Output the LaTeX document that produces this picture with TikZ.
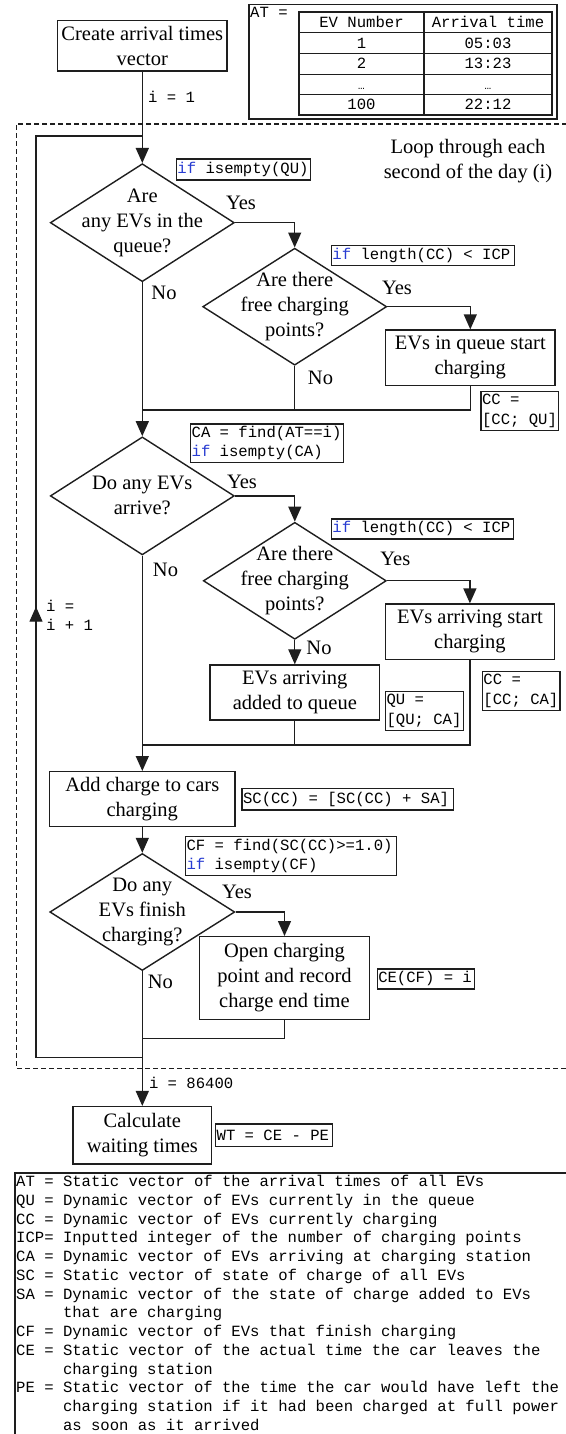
\documentclass[tikz,border=0pt]{standalone}
\usepackage{fontspec}
\setmainfont{Liberation Serif}
\setmonofont{Liberation Mono}
\usetikzlibrary{arrows.meta,shapes.geometric}
\definecolor{ifblue}{RGB}{40,60,210}
\definecolor{ink}{RGB}{30,30,30}
\newcommand{\nsp}{\spaceskip=0pt\xspaceskip=0pt\relax}
\newcommand{\kw}[1]{\textcolor{ifblue}{#1}}
\begin{document}
\begin{tikzpicture}[x=1pt,y=-1pt,line join=miter,
  main/.style={font=\fontsize{20.5pt}{25pt}\selectfont},
  box/.style={draw=ink,line width=1.4pt,rectangle,align=center,inner sep=1pt,main},
  dia/.style={draw=ink,line width=1.4pt,diamond,inner sep=0pt},
  dtext/.style={align=center,main,inner sep=0pt},
  code/.style={font=\ttfamily\frenchspacing\fontsize{15.6pt}{19.5pt}\selectfont},
  cbox/.style={draw=ink,line width=1.3pt,code,anchor=north west,align=left,inner xsep=1pt,inner ysep=0pt},
  conn/.style={draw=ink,line width=1.3pt},
  arr/.style={conn,-{Triangle[length=15pt,width=13pt]}},
  lbl/.style={main,inner sep=0pt},
  lgd/.style={code,anchor=base west,inner sep=0pt},
  cell/.style={code,anchor=base,inner sep=0pt}]
\useasboundingbox (0,0) rectangle (565,1434);
\fill[white] (0,0) rectangle (565,1434);

% ---------- table AT ----------
\draw[ink,line width=1.4pt] (249,4.7) rectangle (557,119);
\node[lgd] (atlbl) at (250,18) {AT =};
\draw[ink,line width=1.6pt] (299,12.3) rectangle (552,115.3);
\foreach \yy in {32.9,53.5,74.1,94.7} \draw[ink,line width=1.1pt] (299,\yy) -- (552,\yy);
\draw[ink,line width=1.1pt] (424,12.3) -- (424,115.3);
\node[cell] (t11) at (361.5,27.6) {EV Number};
\node[cell] (t12) at (488,27.6) {Arrival time};
\node[cell] (t21) at (361.5,48.2) {1};
\node[cell] (t22) at (488,48.2) {05:03};
\node[cell] (t31) at (361.5,68.8) {2};
\node[cell] (t32) at (488,68.8) {13:23};
\node[cell,font=\ttfamily\fontsize{11pt}{12pt}\selectfont] (t41) at (361.5,89.4) {…};
\node[cell,font=\ttfamily\fontsize{11pt}{12pt}\selectfont] (t42) at (488,89.4) {…};
\node[cell] (t51) at (361.5,110) {100};
\node[cell] (t52) at (488,110) {22:12};

% ---------- dashed loop frame ----------
\draw[ink,line width=1.1pt,dash pattern=on 5pt off 3pt] (567,124) -- (16.2,124) -- (16.2,1068.3) -- (567,1068.3);
\node[lbl,align=center] (looplbl) at (468,161) {Loop through each\\second of the day (i)};

% ---------- nodes ----------
\node[box,minimum width=169.7pt,minimum height=50.3pt] (b0) at (142.3,45.9) {Create arrival times\\vector};

\node[dia,minimum width=184pt,minimum height=118pt] (d1) at (142.3,222.7) {};
\node[dtext] (d1t) at (d1.center) {Are\\any EVs in the\\queue?};
\node[dia,minimum width=184pt,minimum height=117pt] (d2) at (294.7,306.7) {};
\node[dtext] (d2t) at (d2.center) {Are there\\free charging\\points?};
\node[box,minimum width=169.4pt,minimum height=55.7pt] (b1) at (470.3,357.9) {EVs in queue start\\charging};

\node[dia,minimum width=184pt,minimum height=118pt] (d3) at (142.3,495.9) {};
\node[dtext] (d3t) at (d3.center) {Do any EVs\\arrive?};
\node[dia,minimum width=183pt,minimum height=117pt] (d4) at (294.8,580.8) {};
\node[dtext] (d4t) at (d4.center) {Are there\\free charging\\points?};
\node[box,minimum width=168.6pt,minimum height=55.3pt] (b2) at (469.9,631.7) {EVs arriving start\\charging};
\node[box,minimum width=169.4pt,minimum height=55pt] (b3) at (294.8,692.5) {EVs arriving\\added to queue};

\node[box,minimum width=185.6pt,minimum height=55pt] (b4) at (142.3,799.2) {Add charge to cars\\charging};
\node[dia,minimum width=185pt,minimum height=117pt] (d5) at (142.3,912) {};
\node[dtext] (d5t) at (d5.center) {Do any\\EVs finish\\charging?};
\node[box,minimum width=170pt,minimum height=82.6pt] (b5) at (284.5,978) {Open charging\\point and record\\charge end time};
\node[box,minimum width=138.8pt,minimum height=57.3pt] (b6) at (142.3,1135.3) {Calculate\\waiting times};

% ---------- code boxes ----------
\node[cbox,text width=132.2pt,minimum height=21pt] (c1) at (175.8,158.5) {\nsp\kw{if} isempty(QU)};
\node[cbox,text width=180.7pt,minimum height=20pt] (c2) at (330.8,245) {\nsp\kw{if} length(CC) < ICP};
\node[cbox,text width=75.4pt,minimum height=39.3pt] (c3) at (480.4,390.7) {\nsp CC =\\{}[CC; QU]};
\node[cbox,text width=151pt,minimum height=38.4pt] (c4) at (190,423.3) {\nsp CA = find(AT==i)\\\kw{if} isempty(CA)};
\node[cbox,text width=180pt,minimum height=20pt] (c5) at (330.8,518.3) {\nsp\kw{if} length(CC) < ICP};
\node[cbox,text width=75.5pt,minimum height=39.3pt] (c6) at (481.8,670.7) {\nsp CC =\\{}[CC; CA]};
\node[cbox,text width=76.1pt,minimum height=39.3pt] (c7) at (384.9,690.7) {\nsp QU =\\{}[QU; CA]};
\node[cbox,text width=209.6pt,minimum height=21.6pt] (c8) at (241.4,787.7) {\nsp SC(CC) = [SC(CC) + SA]};
\node[cbox,text width=208.8pt,minimum height=39pt] (c9) at (184.9,836) {\nsp CF = find(SC(CC)>=1.0)\\\kw{if} isempty(CF)};
\node[cbox,text width=95.3pt,minimum height=20pt] (c10) at (376.6,968.3) {\nsp CE(CF) = i};
\node[cbox,text width=114.5pt,minimum height=22.7pt] (c11) at (215,1123.3) {\nsp WT = CE - PE};

% ---------- connectors ----------
\coordinate (m1) at (142.3,410);
\coordinate (m2) at (142.3,745);
\coordinate (m3) at (142.3,1038.3);
\coordinate (l1) at (142.3,1057.3);
\coordinate (l2) at (36,1057.3);
\coordinate (l3) at (36,136);
\coordinate (l4) at (142.3,136);
\coordinate (la) at (36,606.7);

\draw[arr] (b0.south) -- (d1.north);
\node[code,anchor=west,inner sep=0pt] (i1) at (148,96.7) {i = 1};
\draw[arr] (d1.east) -| (d2.north);
\node[lbl] (y1) at (241,202.5) {Yes};
\draw[arr] (d2.east) -| (b1.north);
\node[lbl] (y2) at (397,288.3) {Yes};
\draw[arr] (d1.south) -- (d3.north);
\node[lbl] (n1) at (164,293.3) {No};
\draw[conn] (d2.south) -- (d2.south |- m1);
\node[lbl] (n2) at (320.5,378.3) {No};
\draw[conn] (b1.south) |- (m1);

\draw[arr] (d3.east) -| (d4.north);
\node[lbl] (y3) at (242,481.7) {Yes};
\draw[arr] (d4.east) -| (b2.north);
\node[lbl] (y4) at (395.4,559.3) {Yes};
\draw[arr] (d4.south) -- (b3.north);
\node[lbl] (n4) at (319,648.3) {No};
\draw[arr] (d3.south) -- (b4.north);
\node[lbl] (n3) at (165.5,570) {No};
\draw[conn] (b3.south) -- (b3.south |- m2);
\draw[conn] (b2.south) |- (m2);

\draw[arr] (b4.south) -- (d5.north);
\draw[arr] (d5.east) -| (b5.north);
\node[lbl] (y5) at (237,891.7) {Yes};
\draw[conn] (b5.south) |- (m3);
\draw[arr] (d5.south) -- (b6.north);
\node[lbl] (n5) at (160.4,981.7) {No};
\node[code,anchor=west,inner sep=0pt] (i3) at (148.8,1082.7) {i = 86400};

\draw[conn] (l1) -- (l2) -- (l3) -- (l4);
\draw[arr] (l2) -- (la);
\node[code,anchor=west,align=left,inner sep=0pt,text width=60pt] (i2) at (46,615.5) {\nsp i =\\i + 1};

% ---------- legend ----------
\draw[ink,line width=1.8pt] (567,1173) -- (15,1173) -- (15,1436);
\node[lgd] (g1) at (16,1186.4) {AT = Static vector of the arrival times of all EVs};
\node[lgd] (g2) at (16,1205.2) {QU = Dynamic vector of EVs currently in the queue};
\node[lgd] (g3) at (16,1224.0) {CC = Dynamic vector of EVs currently charging};
\node[lgd] (g4) at (16,1242.7) {ICP= Inputted integer of the number of charging points};
\node[lgd] (g5) at (16,1261.5) {CA = Dynamic vector of EVs arriving at charging station};
\node[lgd] (g6) at (16,1280.3) {SC = Static vector of state of charge of all EVs};
\node[lgd] (g7) at (16,1299.0) {SA = Dynamic vector of the state of charge added to EVs};
\node[lgd] (g8) at (16,1317.8) {\hspace*{3em}that are charging};
\node[lgd] (g9) at (16,1336.6) {CF = Dynamic vector of EVs that finish charging};
\node[lgd] (g10) at (16,1355.3) {CE = Static vector of the actual time the car leaves the};
\node[lgd] (g11) at (16,1374.1) {\hspace*{3em}charging station};
\node[lgd] (g12) at (16,1392.9) {PE = Static vector of the time the car would have left the};
\node[lgd] (g13) at (16,1411.6) {\hspace*{3em}charging station if it had been charged at full power};
\node[lgd] (g14) at (16,1430.4) {\hspace*{3em}as soon as it arrived};
\end{tikzpicture}
\end{document}
